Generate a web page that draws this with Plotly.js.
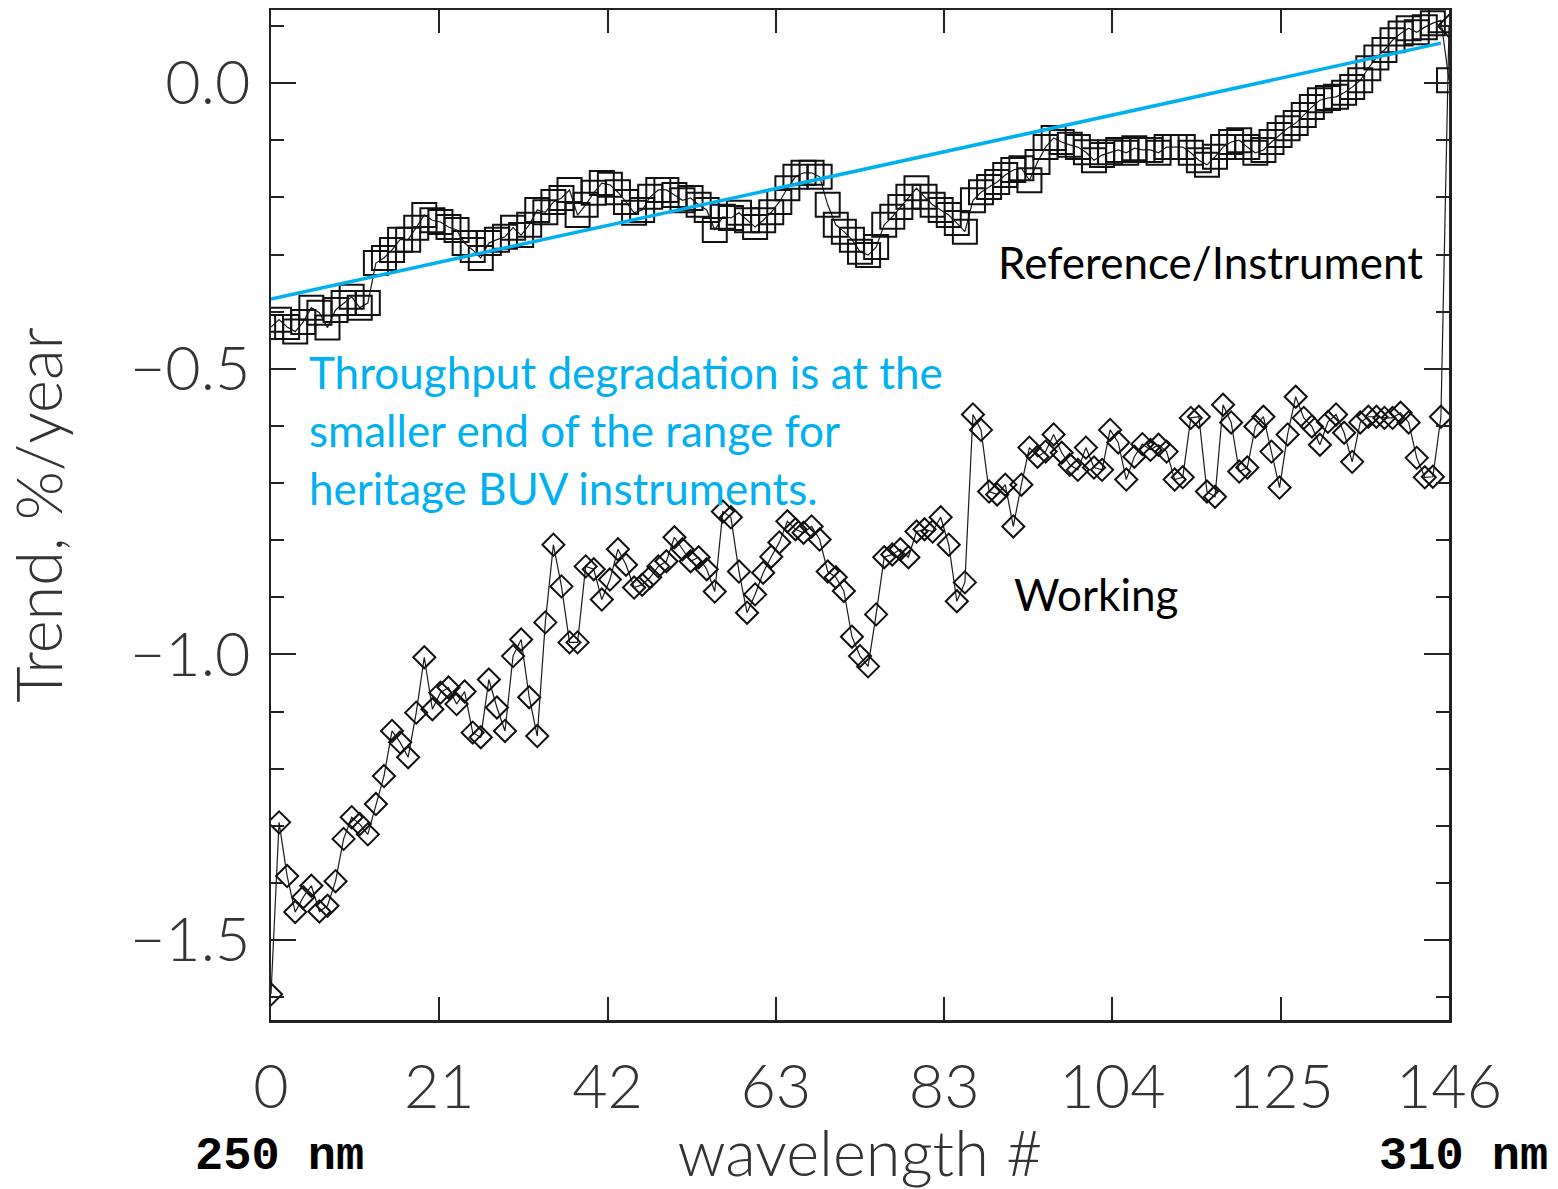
<!DOCTYPE html>
<html>
<head>
<meta charset="utf-8">
<script src="https://cdn.plot.ly/plotly-3.0.1.min.js"></script>
<style>
html,body{margin:0;padding:0;background:#fff;}
#chart{width:1558px;height:1189px;}
</style>
</head>
<body>
<div id="chart"></div>
<script>
// ---- data ----
const referenceTrend = [
 -0.427,-0.414,-0.427,-0.435,-0.418,-0.393,-0.402,-0.428,-0.397,-0.385,
 -0.374,-0.393,-0.385,-0.315,-0.306,-0.292,-0.274,-0.274,-0.253,-0.231,
 -0.240,-0.243,-0.252,-0.257,-0.280,-0.292,-0.306,-0.280,-0.274,-0.269,
 -0.253,-0.266,-0.248,-0.222,-0.226,-0.208,-0.201,-0.187,-0.231,-0.213,
 -0.192,-0.175,-0.178,-0.191,-0.208,-0.227,-0.222,-0.199,-0.187,-0.187,
 -0.196,-0.205,-0.201,-0.213,-0.222,-0.257,-0.234,-0.236,-0.227,-0.240,
 -0.252,-0.240,-0.226,-0.208,-0.184,-0.164,-0.157,-0.157,-0.164,-0.213,
 -0.248,-0.260,-0.274,-0.295,-0.301,-0.287,-0.248,-0.234,-0.217,-0.199,
 -0.184,-0.199,-0.213,-0.222,-0.231,-0.245,-0.260,-0.205,-0.191,-0.182,
 -0.173,-0.161,-0.152,-0.149,-0.170,-0.138,-0.112,-0.096,-0.103,-0.108,
 -0.112,-0.121,-0.135,-0.126,-0.121,-0.117,-0.122,-0.114,-0.117,-0.117,
 -0.122,-0.112,-0.112,-0.112,-0.122,-0.135,-0.143,-0.129,-0.112,-0.103,
 -0.100,-0.112,-0.122,-0.117,-0.103,-0.091,-0.079,-0.070,-0.056,-0.042,
 -0.030,-0.026,-0.024,-0.017,-0.007,0.005,0.026,0.045,0.058,0.075,
 0.087,0.096,0.089,0.098,0.105,0.110,0.005
];
const workingTrend = [
 -1.595,-1.294,-1.388,-1.451,-1.425,-1.405,-1.450,-1.440,-1.397,-1.323,
 -1.285,-1.297,-1.315,-1.262,-1.213,-1.134,-1.154,-1.180,-1.102,-1.005,
 -1.096,-1.067,-1.058,-1.087,-1.065,-1.137,-1.145,-1.044,-1.093,-1.134,
 -1.003,-0.974,-1.075,-1.143,-0.944,-0.808,-0.881,-0.979,-0.979,-0.846,
 -0.851,-0.904,-0.869,-0.816,-0.843,-0.883,-0.878,-0.865,-0.846,-0.837,
 -0.795,-0.816,-0.837,-0.830,-0.851,-0.890,-0.750,-0.760,-0.855,-0.927,
 -0.895,-0.857,-0.829,-0.804,-0.767,-0.781,-0.787,-0.776,-0.799,-0.855,
 -0.865,-0.889,-0.969,-1.003,-1.021,-0.930,-0.830,-0.825,-0.816,-0.830,
 -0.785,-0.781,-0.785,-0.760,-0.808,-0.907,-0.874,-0.580,-0.607,-0.715,
 -0.720,-0.703,-0.776,-0.703,-0.638,-0.654,-0.645,-0.615,-0.647,-0.668,
 -0.677,-0.638,-0.673,-0.677,-0.607,-0.629,-0.694,-0.654,-0.632,-0.642,
 -0.633,-0.645,-0.694,-0.690,-0.586,-0.584,-0.715,-0.724,-0.563,-0.594,
 -0.680,-0.673,-0.601,-0.584,-0.645,-0.708,-0.615,-0.549,-0.586,-0.601,
 -0.633,-0.593,-0.580,-0.612,-0.663,-0.594,-0.584,-0.584,-0.586,-0.586,
 -0.577,-0.594,-0.656,-0.690,-0.689,-0.584,0.100
];
const fitX = [0, 145];
const fitY = [-0.378, 0.070];
const xTickLabels = ['0','21','42','63','83','104','125','146'];
const yTickValues = [-1.5, -1.0, -0.5, 0.0];
const wavelengthIndex = referenceTrend.map((_, i) => i);

// ---- styles ----
const tickFont = {family: 'Lato, "DejaVu Sans", sans-serif', size: 61, color: '#333', weight: 300};
const titleFont = {family: 'Lato, "DejaVu Sans", sans-serif', size: 63, color: '#333', weight: 300};
const calloutFont = {family: 'Lato, "Open Sans", sans-serif', size: 44};
const nMax = wavelengthIndex[wavelengthIndex.length - 1];
const xTickVals = xTickLabels.map((_, i) => i * nMax / (xTickLabels.length - 1));

const traces = [
  {
    x: wavelengthIndex, y: workingTrend, type: 'scatter', mode: 'lines+markers',
    name: 'Working',
    line: {color: '#1a1a1a', width: 1.2},
    marker: {symbol: 'diamond-open', size: 17, color: '#111', line: {width: 2, color: '#111'}}
  },
  {
    x: wavelengthIndex, y: referenceTrend, type: 'scatter', mode: 'lines+markers',
    name: 'Reference/Instrument',
    line: {color: '#1a1a1a', width: 1.2},
    marker: {symbol: 'square-open', size: 24, color: '#111', line: {width: 2, color: '#111'}}
  },
  {
    x: fitX, y: fitY, type: 'scatter', mode: 'lines', name: 'fit',
    line: {color: '#00b0f0', width: 3.5}
  }
];

const layout = {
  width: 1558, height: 1189,
  margin: {l: 271, r: 109, t: 10, b: 169, pad: 0},
  paper_bgcolor: '#fff', plot_bgcolor: '#fff',
  showlegend: false,
  xaxis: {
    range: [0, nMax], tickmode: 'array', tickvals: xTickVals, ticktext: xTickLabels,
    ticks: 'inside', ticklen: 23, tickwidth: 2, tickcolor: '#222',
    showline: true, linecolor: '#222', linewidth: 2.5, mirror: 'ticks',
    showgrid: false, zeroline: false,
    tickfont: tickFont, ticklabelstandoff: 12,
    title: {text: 'wavelength #', font: titleFont, standoff: 18}
  },
  yaxis: {
    range: [-1.64, 0.128], tickmode: 'array', tickvals: yTickValues, tickformat: '.1f',
    ticks: 'inside', ticklen: 25, tickwidth: 2, tickcolor: '#222',
    minor: {dtick: 0.1, tick0: 0, ticks: 'inside', ticklen: 13, tickwidth: 2, tickcolor: '#222', showgrid: false},
    showline: true, linecolor: '#222', linewidth: 2.5, mirror: 'ticks',
    showgrid: false, zeroline: false,
    tickfont: tickFont, ticklabelstandoff: 6,
    title: {text: 'Trend, %/year', font: titleFont, standoff: 48}
  },
  annotations: [
    {xref: 'x', yref: 'y', x: 89.9, y: -0.313, text: 'Reference/Instrument', showarrow: false,
     xanchor: 'left', yanchor: 'middle', font: Object.assign({color: '#000'}, calloutFont)},
    {xref: 'x', yref: 'y', x: 91.9, y: -0.895, text: 'Working', showarrow: false,
     xanchor: 'left', yanchor: 'middle', font: Object.assign({color: '#000'}, calloutFont)},
    {xref: 'x', yref: 'y', x: 4.4, y: -0.505, text: 'Throughput degradation is at the', showarrow: false,
     xanchor: 'left', yanchor: 'middle', font: Object.assign({color: '#00b0f0'}, calloutFont)},
    {xref: 'x', yref: 'y', x: 4.4, y: -0.607, text: 'smaller end of the range for', showarrow: false,
     xanchor: 'left', yanchor: 'middle', font: Object.assign({color: '#00b0f0'}, calloutFont)},
    {xref: 'x', yref: 'y', x: 4.4, y: -0.708, text: 'heritage BUV instruments.', showarrow: false,
     xanchor: 'left', yanchor: 'middle', font: Object.assign({color: '#00b0f0'}, calloutFont)},
    {xref: 'paper', yref: 'paper', x: 0.0068, y: -0.1356, text: '<b>250 nm</b>', showarrow: false,
     xanchor: 'center', yanchor: 'middle', font: {family: '"Liberation Mono", "DejaVu Sans Mono", monospace', size: 47, color: '#000'}},
    {xref: 'paper', yref: 'paper', x: 1.012, y: -0.1356, text: '<b>310 nm</b>', showarrow: false,
     xanchor: 'center', yanchor: 'middle', font: {family: '"Liberation Mono", "DejaVu Sans Mono", monospace', size: 47, color: '#000'}}
  ]
};

Plotly.newPlot('chart', traces, layout, {displayModeBar: false, staticPlot: true});
</script>
</body>
</html>
